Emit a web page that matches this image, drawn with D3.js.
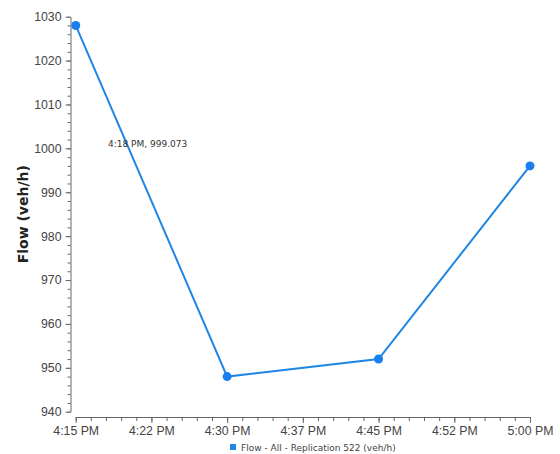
<!DOCTYPE html>
<html>
<head>
<meta charset="utf-8">
<script src="https://cdn.jsdelivr.net/npm/d3@7"></script>
<style>
  html, body { margin: 0; padding: 0; background: #fff; }
  svg { display: block; font-family: "DejaVu Sans", Verdana, sans-serif; }
  .axis path, .axis line { stroke: #666; }
  .axis text { fill: #444; font-size: 12.3px; }
</style>
</head>
<body>
<svg id="chart" width="560" height="454"></svg>
<script>
// data
const times = ['16:15', '16:30', '16:45', '17:00'];
const flows = [1028, 948, 952, 996];
const yTicks = [940, 950, 960, 970, 980, 990, 1000, 1010, 1020, 1030];
const seriesName = 'Flow - All - Replication 522 (veh/h)';
const hoverLabel = '4:18 PM, 999.073';
const hoverAt = ['16:18', 999.073];

const parseTime = d3.timeParse('%Y-%m-%d %H:%M');
const toDate = (t) => parseTime('2020-01-01 ' + t);
const points = times.map((t, i) => ({ t: toDate(t), v: flows[i] }));

const svg = d3.select('#chart');
const blue = '#1f86e3';

const x = d3.scaleTime()
  .domain([toDate('16:15'), toDate('17:00')])
  .range([75.7, 530]);
const y = d3.scaleLinear()
  .domain([940, 1030])
  .range([411.7, 16.7]);

const xAxisY = 417;
const yAxisX = 70.5;

// x axis: labelled ticks every 7.5 min, minor every 1.5 min
const xMajor = d3.range(0, 7).map((i) => new Date(+toDate('16:15') + i * 7.5 * 60000));
const xMinor = d3.range(0, 31).map((i) => new Date(+toDate('16:15') + i * 1.5 * 60000));
svg.append('g').attr('class', 'axis')
  .attr('transform', `translate(0,${xAxisY})`)
  .call(d3.axisBottom(x).tickValues(xMinor).tickSize(4).tickFormat(''))
  .call((g) => g.select('.domain').remove());
svg.append('g').attr('class', 'axis')
  .attr('transform', `translate(0,${xAxisY})`)
  .call(d3.axisBottom(x).tickValues(xMajor).tickSize(6).tickSizeOuter(0)
    .tickPadding(3).tickFormat(d3.timeFormat('%-I:%M %p')));

// y axis
const yMinor = d3.range(940, 1031, 2);
svg.append('g').attr('class', 'axis')
  .attr('transform', `translate(${yAxisX},0)`)
  .call(d3.axisLeft(y).tickValues(yMinor).tickSize(3).tickFormat(''))
  .call((g) => g.select('.domain').remove());
svg.append('g').attr('class', 'axis')
  .attr('transform', `translate(${yAxisX},0)`)
  .call(d3.axisLeft(y).tickValues(yTicks).tickSize(5).tickSizeOuter(0)
    .tickPadding(4).tickFormat(d3.format('d')));

svg.append('text')
  .attr('transform', `translate(28,${(y(940) + y(1030)) / 2}) rotate(-90)`)
  .attr('text-anchor', 'middle')
  .attr('font-size', '14px')
  .attr('font-weight', 'bold')
  .attr('fill', '#222')
  .text('Flow (veh/h)');

// series
const line = d3.line().x((d) => x(d.t)).y((d) => y(d.v));
svg.append('path')
  .datum(points)
  .attr('fill', 'none')
  .attr('stroke', blue)
  .attr('stroke-width', 2)
  .attr('d', line);

svg.selectAll('circle.pt')
  .data(points)
  .join('circle')
  .attr('class', 'pt')
  .attr('cx', (d) => x(d.t))
  .attr('cy', (d) => y(d.v))
  .attr('r', 4.5)
  .attr('fill', '#1a7ef0');

// hover readout
svg.append('text')
  .attr('x', x(toDate(hoverAt[0])) + 2)
  .attr('y', y(hoverAt[1]) - 5)
  .attr('font-size', '9px')
  .attr('fill', '#333')
  .text(hoverLabel);

// legend
const legend = svg.append('g').attr('transform', 'translate(230,444)');
legend.append('rect').attr('width', 6).attr('height', 6).attr('fill', blue);
legend.append('text')
  .attr('x', 11).attr('y', 6.5)
  .attr('font-size', '9px')
  .attr('fill', '#444')
  .text(seriesName);
</script>
</body>
</html>
